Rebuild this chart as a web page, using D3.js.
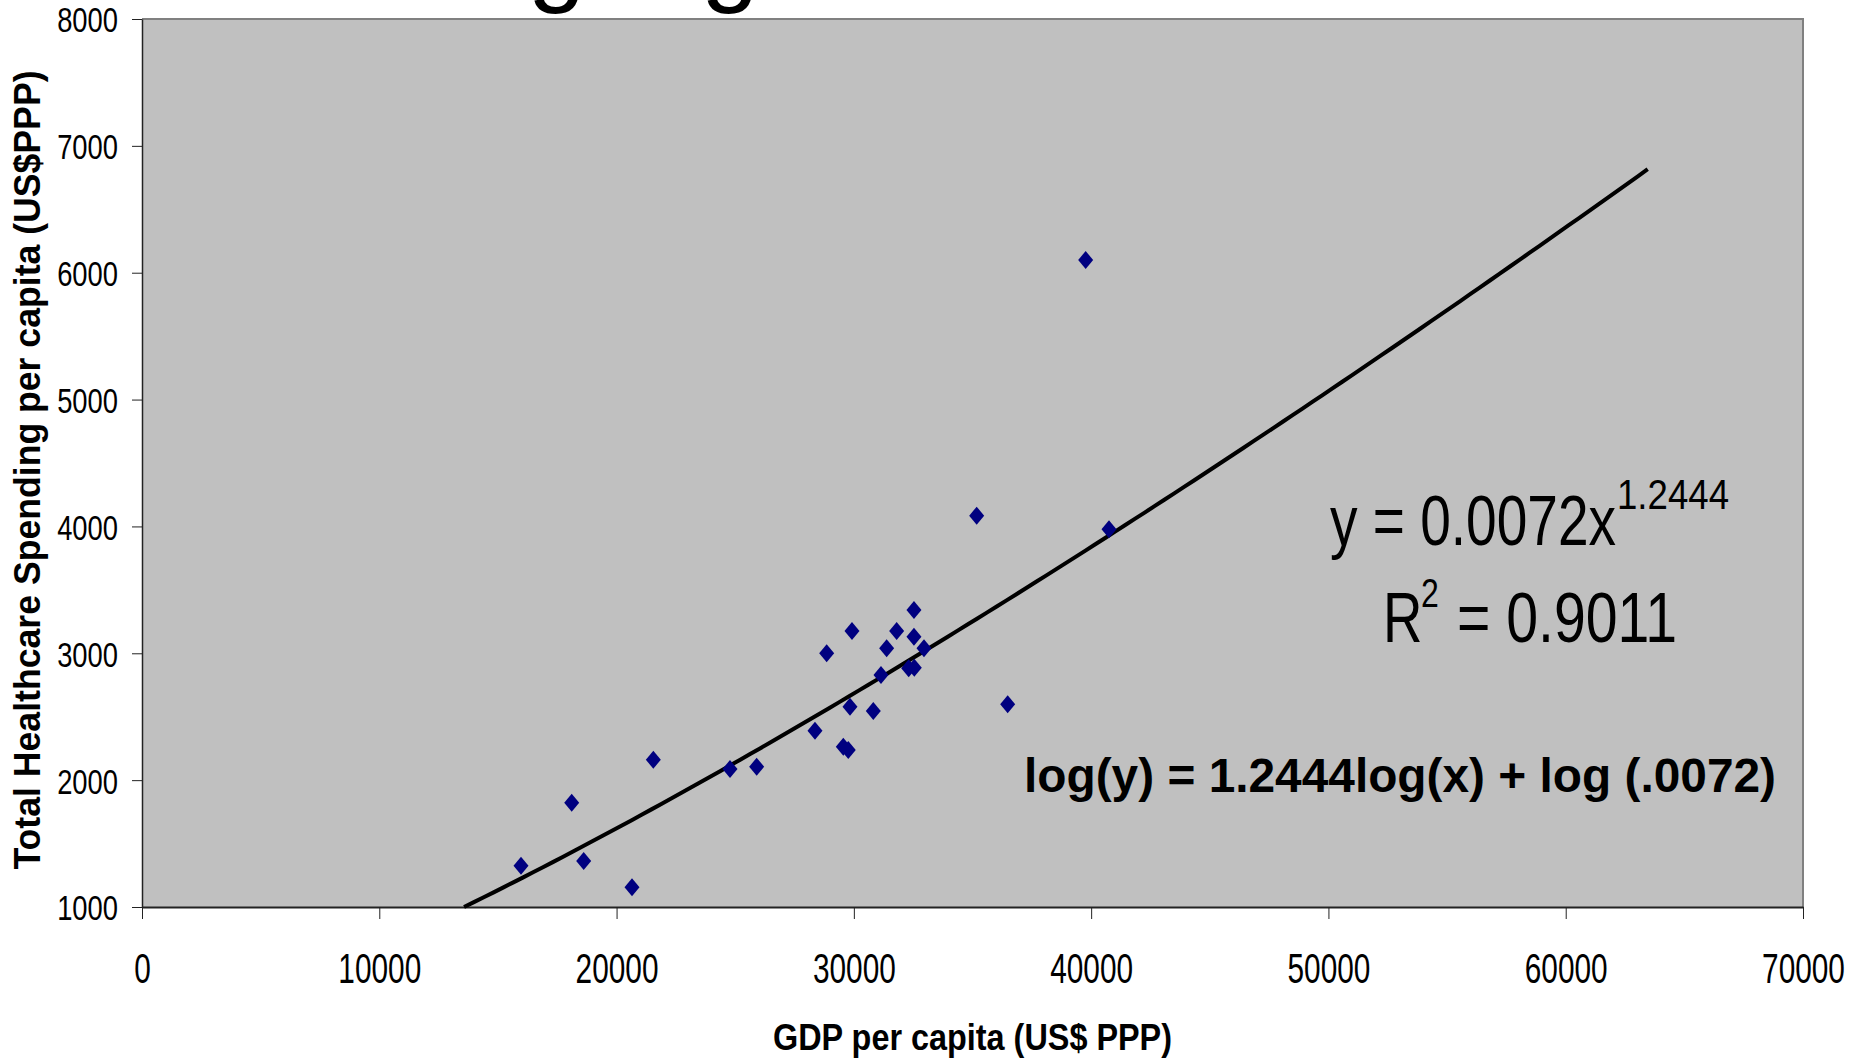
<!DOCTYPE html>
<html>
<head>
<meta charset="utf-8">
<script src="https://cdn.jsdelivr.net/npm/d3@7"></script>
<style>
  html, body { margin: 0; padding: 0; background: #fff; }
  svg { display: block; font-family: "Liberation Sans", Arial, sans-serif; }
</style>
</head>
<body>
<div id="chart"></div>
<script>
// GDP per capita (US$ PPP) vs total healthcare spending per capita
const gdp = [15972, 18109, 18614, 20650, 21549, 24780, 25904, 28362, 28854, 29555,
  29765, 29837, 29921, 30819, 31143, 31382, 31803, 32311, 32547, 32533,
  32533, 32955, 35176, 36482, 40752, 39769];
const spend = [1326, 1822, 1363, 1155, 2161, 2088, 2106, 2390, 3000, 2264,
  2238, 2579, 3176, 2545, 2829, 3039, 3176, 2882, 2886, 3131,
  3341, 3039, 4085, 2598, 3977, 6100];

const xTicks = [0, 10000, 20000, 30000, 40000, 50000, 60000, 70000];
const yTicks = [1000, 2000, 3000, 4000, 5000, 6000, 7000, 8000];

// power trendline  y = a * x^b  (from the chart label)
const trendA = 0.0072;
const trendB = 1.2444;
const trendR2 = 0.9011;
const trendXEnd = 63455;

const width = 1856, height = 1064;
const margin = { top: 19, right: 53, bottom: 157, left: 142 };

const svg = d3.select("#chart").append("svg")
  .attr("width", width)
  .attr("height", height);

const xScale = d3.scaleLinear().domain([0, 70000]).range([margin.left, width - margin.right]);
const yScale = d3.scaleLinear().domain([1000, 8000]).range([height - margin.bottom, margin.top]);

// helper for the narrow-looking text of the original
function label(x, y, str, size, opts = {}) {
  const t = svg.append("text")
    .attr("transform", "translate(" + x + "," + y + ") scale(" + (opts.sx || 1) + ",1)")
    .attr("font-size", size)
    .attr("font-weight", opts.weight || "normal")
    .attr("text-anchor", opts.anchor || "start")
    .attr("fill", "#000")
    .text(str);
  if (opts.len) t.attr("textLength", opts.len).attr("lengthAdjust", "spacingAndGlyphs");
  return t;
}

// cut-off title at the very top (only descenders visible)
label(412, -8, "Log-log", 104);

// plot background
svg.append("rect")
  .attr("x", xScale(0))
  .attr("y", yScale(8000))
  .attr("width", xScale(70000) - xScale(0))
  .attr("height", yScale(1000) - yScale(8000))
  .attr("fill", "#c0c0c0");

// top & right border
svg.append("path")
  .attr("d", "M" + xScale(0) + "," + yScale(8000) + "H" + xScale(70000) + "V" + yScale(1000))
  .attr("fill", "none")
  .attr("stroke", "#808080")
  .attr("stroke-width", 2);

// X axis
const xAxis = svg.append("g")
  .attr("transform", "translate(0," + yScale(1000) + ")")
  .call(d3.axisBottom(xScale).tickValues(xTicks).tickSize(12).tickSizeOuter(0).tickFormat(d3.format("d")));
xAxis.select(".domain").attr("stroke", "#222").attr("stroke-width", 2);
xAxis.selectAll(".tick line").attr("stroke", "#222").attr("stroke-width", 1);
xAxis.selectAll(".tick text")
  .attr("y", 0).attr("dy", 0)
  .attr("transform", "translate(0,76) scale(0.71,1)")
  .attr("font-size", 42)
  .attr("font-family", "Liberation Sans, Arial, sans-serif")
  .attr("fill", "#000");

// Y axis
const yAxis = svg.append("g")
  .attr("transform", "translate(" + xScale(0) + ",0)")
  .call(d3.axisLeft(yScale).tickValues(yTicks).tickSize(10).tickSizeOuter(0).tickFormat(d3.format("d")));
yAxis.select(".domain").attr("stroke", "#222").attr("stroke-width", 1.5);
yAxis.selectAll(".tick line").attr("stroke", "#222").attr("stroke-width", 1);
yAxis.selectAll(".tick text")
  .attr("x", 0).attr("dy", "0.36em")
  .attr("transform", "translate(-24,0) scale(0.76,1)")
  .attr("font-size", 36)
  .attr("font-family", "Liberation Sans, Arial, sans-serif")
  .attr("fill", "#000");

// trendline (power fit), starting where it enters the plot at y = 1000
const xStart = Math.pow(1000 / trendA, 1 / trendB);
const trendX = d3.range(xStart, trendXEnd, (trendXEnd - xStart) / 120).concat([trendXEnd]);
const line = d3.line()
  .x((d) => xScale(d))
  .y((d) => yScale(trendA * Math.pow(d, trendB)));
svg.append("path")
  .datum(trendX)
  .attr("d", line)
  .attr("fill", "none")
  .attr("stroke", "#000")
  .attr("stroke-width", 4)
  .attr("stroke-linejoin", "round");

// diamond markers
const points = gdp.map((g, i) => ({ x: g, y: spend[i] }));
svg.append("g")
  .selectAll("path")
  .data(points)
  .join("path")
  .attr("transform", (d) => "translate(" + xScale(d.x) + "," + yScale(d.y) + ")")
  .attr("d", "M0,-9L7.5,0L0,9L-7.5,0Z")
  .attr("fill", "#000080");

// equation labels
label(1330, 545, "y = " + trendA.toFixed(4) + "x", 70, { len: 286 });
label(1617, 509, String(trendB), 43, { len: 112 });
label(1383, 642, "R", 70, { sx: 0.78 });
label(1421, 607, "2", 40, { sx: 0.8 });
label(1457, 642, "= " + trendR2, 70, { len: 220 });
label(1024, 792, "log(y) = 1.2444log(x) + log (.0072)", 48, { weight: "bold", len: 752 });

// axis titles
label(773, 1050, "GDP per capita (US$ PPP)", 37.5, { weight: "bold", len: 399 });
svg.append("text")
  .attr("transform", "translate(40,470) rotate(-90)")
  .attr("font-size", 37)
  .attr("font-weight", "bold")
  .attr("text-anchor", "middle")
  .attr("textLength", 799)
  .attr("lengthAdjust", "spacingAndGlyphs")
  .text("Total Healthcare Spending per capita (US$PPP)");
</script>
</body>
</html>
